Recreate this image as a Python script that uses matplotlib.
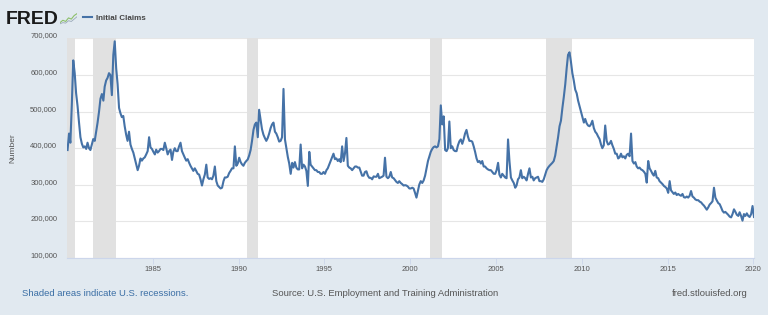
import matplotlib
matplotlib.use("Agg")
import matplotlib.pyplot as plt
import matplotlib.transforms as mtransforms
import pandas as pd

# Initial claims (thousands), monthly readings from the chart
claims_1980s = [
    395, 440, 415, 520, 640, 605, 550, 515, 470, 430, 412, 402,
    405, 398, 415, 400, 395, 410, 425, 420, 445, 470, 500, 535,
    548, 530, 568, 585, 592, 605, 600, 545, 655, 692, 618, 575,
    510, 495, 485, 488, 460, 437, 420, 445, 410, 398, 388, 372,
    355, 340, 352, 372, 366, 372, 375, 383, 392, 430, 402, 398,
    390, 383, 396, 388, 392, 398, 398, 395, 415, 400, 383, 392,
    396, 368, 390, 400, 392, 392, 405, 415, 392, 383, 374, 366,
    370, 360, 352, 345, 338, 345, 338, 330, 328, 315, 298, 315,
    328, 355, 320, 316, 318, 315, 325, 350, 310, 298, 294, 290,
    292, 310, 320, 320, 322, 332, 338, 345, 345, 405, 352, 358,
]
claims_1990s = [
    374, 362, 356, 352, 360, 365, 369, 380, 395, 420, 450, 465,
    470, 430, 505, 478, 452, 437, 428, 420, 428, 440, 455, 465,
    470, 445, 440, 430, 418, 420, 430, 562, 424, 400, 376, 358,
    330, 360, 347, 362, 347, 342, 342, 410, 345, 355, 350, 338,
    297, 390, 355, 350, 345, 340, 340, 335, 335, 330, 330, 335,
    330, 340, 345, 355, 365, 375, 385, 370, 372, 365, 370, 362,
    405, 365, 385, 428, 352, 347, 345, 340, 345, 350, 350, 347,
    347, 335, 325, 325, 335, 337, 325, 319, 319, 315, 323, 322,
    322, 330, 318, 320, 322, 325, 374, 322, 318, 322, 335, 320,
    318, 313, 308, 305, 310, 305, 302, 298, 299, 298, 295, 290,
]
claims_2000s = [
    290, 292, 290, 278, 265, 283, 301, 310, 305, 312, 325, 345,
    365, 378, 390, 398, 403, 405, 402, 405, 425, 517, 465, 487,
    395, 392, 400, 473, 400, 405, 395, 392, 392, 408, 419, 424,
    412, 425, 440, 450, 432, 420, 420, 418, 405, 390, 372, 362,
    365, 358, 365, 350, 350, 345, 342, 340, 340, 335, 330, 330,
    340, 360, 328, 320, 330, 325, 320, 318, 424, 365, 320, 312,
    305, 292, 298, 315, 320, 340, 318, 322, 318, 312, 330, 345,
    320, 322, 312, 318, 320, 322, 310, 310, 308, 315, 328, 340,
    347, 352, 356, 360, 365, 380, 405, 430, 460, 475, 510, 540,
    575, 620, 655, 662, 637, 605, 585, 560, 550, 530, 515, 500,
]
claims_2010s = [
    485, 470, 480, 468, 462, 460, 465, 475, 455, 445, 440, 432,
    425, 410, 400, 408, 462, 420, 410, 412, 420, 408, 398, 385,
    385, 372, 375, 385, 375, 378, 372, 382, 385, 378, 440, 365,
    358, 362, 350, 345, 347, 342, 340, 336, 330, 306, 365, 345,
    338, 330, 325, 338, 320, 318, 310, 306, 302, 297, 294, 290,
    278, 310, 285, 280, 275, 279, 272, 275, 272, 270, 275, 266,
    265, 268, 265, 270, 283, 268, 265, 260, 258, 258, 254, 252,
    247, 243, 238, 232, 238, 246, 250, 255, 292, 265, 257, 250,
    247, 238, 229, 224, 226, 222, 218, 213, 211, 220, 233, 226,
    218, 215, 225, 215, 202, 220, 215, 222, 215, 212, 220, 242,
]
claims_2020 = [212]

recession_starts = ["1980-01-01", "1981-07-01", "1990-07-01", "2001-03-01", "2007-12-01"]
recession_ends = ["1980-07-01", "1982-11-01", "1991-03-01", "2001-11-01", "2009-06-01"]

tick_years = [1985, 1990, 1995, 2000, 2005, 2010, 2015, 2020]
y_ticks = [100000, 200000, 300000, 400000, 500000, 600000, 700000]

values = [v * 1000 for v in claims_1980s + claims_1990s + claims_2000s + claims_2010s + claims_2020]
dates = pd.date_range("1980-01-01", periods=len(values), freq="MS") + pd.Timedelta(days=14)

BG = "#e1e9f0"
LINE = "#4572a7"
FONT = "Liberation Sans"
plt.rcParams["font.family"] = [FONT, "DejaVu Sans"]

fig = plt.figure(figsize=(7.68, 3.15), dpi=100, facecolor=BG)
ax = fig.add_axes([66.9 / 768, 1 - 258 / 315, (754 - 66.9) / 768, (258 - 38.4) / 315])
ax.set_facecolor("white")

for s, e in zip(recession_starts, recession_ends):
    ax.axvspan(pd.Timestamp(s), pd.Timestamp(e), color="#e1e1e1", lw=0, zorder=1)

line, = ax.plot(dates, values, color=LINE, lw=1.5, zorder=3)

ax.set_xlim(pd.Timestamp("1980-01-01"), dates[-1])
ax.set_ylim(100000, 700000)

ax.set_yticks(y_ticks)
ax.set_yticklabels([f"{v:,}" for v in y_ticks])
ax.set_xticks([pd.Timestamp(f"{y}-01-01") for y in tick_years])
ax.set_xticklabels([str(y) for y in tick_years])

ax.grid(axis="y", color="#e6e6e6", lw=0.8)
ax.set_axisbelow(True)
for sp in ["top", "right", "left"]:
    ax.spines[sp].set_visible(False)
ax.spines["bottom"].set_color("#ccd6eb")
ax.spines["bottom"].set_linewidth(0.8)

ax.tick_params(axis="y", length=0, pad=7, labelsize=5.5, labelcolor="#555555")
ax.tick_params(axis="x", length=4, width=0.6, color="#ccd6eb", pad=2,
               labelsize=5.5, labelcolor="#555555")
off = mtransforms.ScaledTranslation(0, 3.4 / 100, fig.dpi_scale_trans)
for lab in ax.get_yticklabels():
    lab.set_transform(lab.get_transform() + off)

fig.text(13 / 768, 1 - 148 / 315, "Number", rotation=90, fontsize=6,
         color="#555555", ha="center", va="center")

# Header
fig.text(6 / 768, 1 - 19 / 315, "FRED", fontsize=14, fontweight="bold",
         color="#1a1a1a", ha="left", va="center")
icon = fig.add_axes([60 / 768, 1 - 25 / 315, 17 / 768, 13 / 315])
icon.set_facecolor("#f2f2f2")
icon.plot([0, 1, 2, 3, 4, 5, 6], [1, 2, 1.5, 3, 2.5, 4, 4.8], color="#8cbf6a", lw=0.8)
icon.plot([0, 1, 2, 3, 4, 5, 6], [0.5, 1, 0.8, 1.8, 1.5, 2.5, 3.5], color="#9aa9b8", lw=0.6)
icon.set_xlim(0, 6)
icon.set_ylim(0, 5.5)
icon.axis("off")

fig.legend(handles=[line], labels=["Initial Claims"], loc="center left",
           bbox_to_anchor=(83 / 768, 1 - 18 / 315), frameon=False,
           handlelength=1.1, handletextpad=0.5, borderpad=0, borderaxespad=0,
           prop={"family": FONT, "weight": "bold", "size": 5.8}, labelcolor="#444444")

# Footer
fig.text(22 / 768, 1 - 293 / 315, "Shaded areas indicate U.S. recessions.",
         fontsize=6.8, color="#3a6ea5", ha="left", va="center")
fig.text(272 / 768, 1 - 293 / 315, "Source: U.S. Employment and Training Administration",
         fontsize=6.8, color="#555555", ha="left", va="center")
fig.text(672 / 768, 1 - 293 / 315, "fred.stlouisfed.org",
         fontsize=6.8, color="#555555", ha="left", va="center")

fig.savefig("out.png", dpi=100, facecolor=BG)
